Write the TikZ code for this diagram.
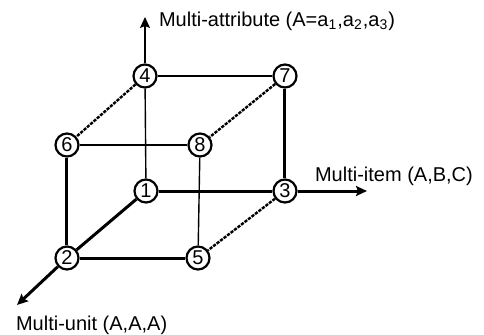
\documentclass[tikz,border=0pt]{standalone}
\usepackage{fontspec}
\setmainfont{Liberation Sans}
\usetikzlibrary{arrows.meta}

\begin{document}
\begin{tikzpicture}[x=0.5pt,y=-0.5pt,>={Stealth[length=5.5pt,width=5pt,inset=1pt]},font=\fontsize{10}{12}\selectfont,
 vtx/.style={circle,draw,line width=1.1pt,fill=white,inner sep=0pt,minimum size=11.5pt},
 thin edge/.style={line width=0.7pt},
 bold edge/.style={line width=1.5pt},
 back edge/.style={line width=1.2pt,dash pattern=on 1.6pt off 0.6pt}]
 \useasboundingbox (0,0) rectangle (484,334);
 \node[vtx] (v1) at(146,191){1};
 \node[vtx] (v2) at(67,258){2};
 \node[vtx] (v3) at(285,191){3};
 \node[vtx] (v4) at(145,76){4};
 \node[vtx] (v5) at(198,258){5};
 \node[vtx] (v6) at(67,145){6};
 \node[vtx] (v7) at(285,76){7};
 \node[vtx] (v8) at(200,145){8};
 \coordinate (up) at(145,17);
 \coordinate (right) at(367,191);
 \coordinate (down) at(17,305);
 % axes
 \draw[->,thin edge] (v4)--(up);
 \draw[->,bold edge] (v3)--(right);
 \draw[->,bold edge] (v2)--(down);
 \node[anchor=base west] (attr) at(152,26){Multi-attribute (A=a\textsubscript{1},a\textsubscript{2},a\textsubscript{3})};
 \node[anchor=base west] (item) at(308,181){Multi-item (A,B,C)};
 \node[anchor=base west] (unit) at(9,330){Multi-unit (A,A,A)};
 % cube edges
 \draw[bold edge] (v2)--(v1);
 \draw[bold edge] (v1)--(v3);
 \draw[bold edge] (v2)--(v5);
 \draw[bold edge] (v2)--(v6);
 \draw[bold edge] (v3)--(v7);
 \draw[thin edge] (v1)--(v4);
 \draw[thin edge] (v4)--(v7);
 \draw[thin edge] (v6)--(v8);
 \draw[thin edge] (v8)--(v5);
 \draw[back edge] (v4)--(v6);
 \draw[back edge] (v7)--(v8);
 \draw[back edge] (v3)--(v5);
\end{tikzpicture}
\end{document}
